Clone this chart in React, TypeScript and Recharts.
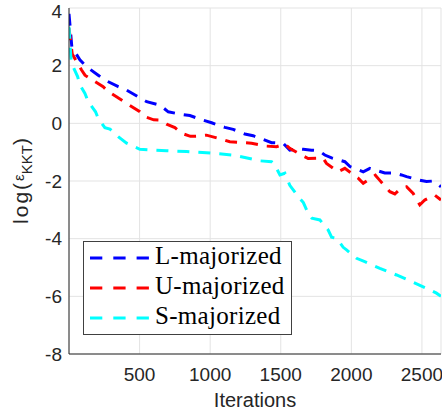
import { LineChart, Line, XAxis, YAxis, CartesianGrid, Legend } from 'recharts';

const xTicks = [500, 1000, 1500, 2000, 2500];
const yTicks = [-8, -6, -4, -2, 0, 2, 4];

// L-majorized
const lIter = [0, 20, 77, 125, 207, 254, 349, 408, 490, 550, 644, 703, 797, 856, 950, 1010, 1104, 1163, 1246, 1304, 1350, 1375, 1435, 1517, 1564, 1620, 1659, 1718, 1770, 1812, 1860, 1954, 1990, 2084, 2131, 2190, 2237, 2300, 2355, 2391, 2485, 2532, 2580, 2635];
const lVal = [3.8, 2.65, 2.2, 1.96, 1.67, 1.5, 1.27, 1.15, 0.92, 0.75, 0.63, 0.4, 0.31, 0.27, 0.11, 0.02, -0.14, -0.21, -0.37, -0.43, -0.52, -0.56, -0.67, -0.69, -0.93, -0.88, -0.9, -0.93, -0.95, -1.1, -1.2, -1.33, -1.5, -1.68, -1.56, -1.65, -1.72, -1.72, -1.79, -1.85, -1.97, -2.02, -2.0, -2.2];

// U-majorized
const uIter = [0, 23, 89, 113, 148, 242, 278, 372, 419, 502, 537, 600, 644, 691, 750, 800, 860, 927, 974, 1081, 1139, 1234, 1293, 1399, 1470, 1529, 1564, 1647, 1694, 1800, 1824, 1906, 1954, 2048, 2084, 2170, 2200, 2273, 2308, 2340, 2391, 2438, 2485, 2520, 2591, 2635];
const uVal = [3.3, 2.4, 1.85, 1.67, 1.56, 1.27, 1.1, 0.81, 0.66, 0.4, 0.23, 0.12, 0.11, -0.03, -0.15, -0.35, -0.45, -0.44, -0.41, -0.55, -0.64, -0.67, -0.69, -0.79, -0.81, -0.72, -0.87, -1.1, -1.22, -1.21, -1.39, -1.68, -1.56, -1.9, -2.08, -1.8, -1.97, -2.37, -2.45, -2.3, -2.2, -2.43, -2.83, -2.66, -2.49, -2.66];

// S-majorized
const sIter = [0, 13, 18, 61, 77, 113, 136, 188, 207, 254, 290, 348, 408, 502, 691, 833, 974, 1163, 1352, 1435, 1458, 1494, 1529, 1564, 1623, 1660, 1694, 1720, 1777, 1836, 1860, 1895, 1920, 1942, 1966, 2037, 2095, 2202, 2320, 2414, 2532, 2603, 2635];
const sVal = [3.35, 2.3, 2.08, 1.62, 1.33, 1.04, 0.75, 0.4, 0.17, -0.15, -0.2, -0.46, -0.69, -0.9, -0.95, -0.98, -1.02, -1.1, -1.3, -1.33, -1.45, -1.79, -1.73, -2.15, -2.54, -2.75, -3.12, -3.29, -3.35, -3.7, -3.95, -3.99, -4.15, -4.3, -4.39, -4.68, -4.8, -5.03, -5.26, -5.46, -5.72, -5.89, -6.0];

const zip = (xs: number[], ys: number[]) => xs.map((x, i) => ({ x, v: ys[i] }));

const series = [
  { name: 'L-majorized', color: '#0000ff', data: zip(lIter, lVal) },
  { name: 'U-majorized', color: '#ff0000', data: zip(uIter, uVal) },
  { name: 'S-majorized', color: '#00ffff', data: zip(sIter, sVal) },
];

const axisColor = '#262626';
const sans = '"Liberation Sans", Arial, sans-serif';
const dash = '12 9';

const YLabel = () => (
  <text
    x={28}
    y={181}
    textAnchor="middle"
    transform="rotate(-90 28 181)"
    fill={axisColor}
    fontFamily={sans}
  >
    <tspan fontSize={21} letterSpacing={2}>log(</tspan>
    <tspan fontSize={15} dy={-4}>ε</tspan>
    <tspan fontSize={15} dy={8}>KKT</tspan>
    <tspan fontSize={21} dy={-4}>)</tspan>
  </text>
);

const LegendBox = () => (
  <div
    style={{
      width: 209,
      height: 94,
      boxSizing: 'border-box',
      border: '1px solid #404040',
      background: '#fff',
    }}
  >
    <svg width={207} height={92}>
      {series.map((s, i) => (
        <g key={s.name}>
          <line
            x1={6}
            x2={65}
            y1={16 + i * 30}
            y2={16 + i * 30}
            stroke={s.color}
            strokeWidth={3}
            strokeDasharray="12.3 11"
          />
          <text
            x={71}
            y={22 + i * 30}
            fontFamily='"Liberation Serif", "Times New Roman", serif'
            fontSize={25}
            letterSpacing={0.3}
            fill="#000"
          >
            {s.name}
          </text>
        </g>
      ))}
    </svg>
  </div>
);

const tickStyle = { fill: axisColor, fontSize: 19, fontFamily: sans };

export default function App() {
  return (
    <div style={{ position: 'absolute', left: 0, top: 0, background: '#fff' }}>
      <LineChart width={442} height={416} margin={{ top: 8, right: 1, left: 0, bottom: 0 }}>
        <CartesianGrid stroke="#e3e3e3" strokeWidth={1} />
        <XAxis
          dataKey="x"
          type="number"
          domain={[0, 2635]}
          ticks={xTicks}
          allowDataOverflow
          height={62}
          tickLine={false}
          tickSize={0}
          tickMargin={14}
          axisLine={{ stroke: axisColor }}
          tick={tickStyle}
          label={{
            value: 'Iterations',
            position: 'insideBottom',
            offset: 9,
            fill: axisColor,
            fontSize: 20,
            fontFamily: sans,
          }}
        />
        <XAxis
          xAxisId="bt"
          dataKey="x"
          type="number"
          domain={[0, 2635]}
          ticks={xTicks}
          allowDataOverflow
          mirror
          height={0}
          tick={false}
          tickSize={4}
          tickLine={{ stroke: axisColor }}
          axisLine={false}
        />
        <XAxis
          xAxisId="tp"
          orientation="top"
          dataKey="x"
          type="number"
          domain={[0, 2635]}
          ticks={xTicks}
          allowDataOverflow
          mirror
          height={0}
          tick={false}
          tickSize={4}
          tickLine={{ stroke: axisColor }}
          axisLine={{ stroke: axisColor }}
        />
        <YAxis
          type="number"
          domain={[-8, 4]}
          ticks={yTicks}
          allowDataOverflow
          width={69}
          tickLine={false}
          tickSize={0}
          tickMargin={7}
          axisLine={{ stroke: axisColor }}
          tick={tickStyle}
          label={<YLabel />}
        />
        <YAxis
          yAxisId="lt"
          type="number"
          domain={[-8, 4]}
          ticks={yTicks}
          allowDataOverflow
          mirror
          width={0}
          tick={false}
          tickSize={4}
          tickLine={{ stroke: axisColor }}
          axisLine={false}
        />
        <YAxis
          yAxisId="rt"
          orientation="right"
          type="number"
          domain={[-8, 4]}
          ticks={yTicks}
          allowDataOverflow
          mirror
          width={0}
          tick={false}
          tickSize={4}
          tickLine={{ stroke: axisColor }}
          axisLine={{ stroke: axisColor }}
        />
        {series.map((s) => (
          <Line
            key={s.name}
            data={s.data}
            dataKey="v"
            name={s.name}
            type="linear"
            stroke={s.color}
            strokeWidth={3}
            strokeDasharray={dash}
            dot={false}
            activeDot={false}
            isAnimationActive={false}
          />
        ))}
        <Legend
          layout="horizontal"
          verticalAlign="middle"
          align="center"
          content={<LegendBox />}
          wrapperStyle={{ left: 83, top: 241, width: 209, height: 94 }}
        />
      </LineChart>
    </div>
  );
}
